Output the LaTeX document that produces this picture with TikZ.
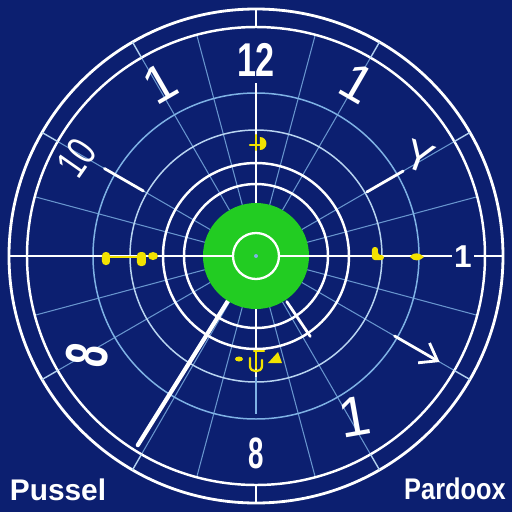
\documentclass[tikz,border=0pt]{standalone}
\usepackage{fontspec}
\setmainfont{Liberation Sans}
\usetikzlibrary{arrows.meta}
\definecolor{dialbg}{HTML}{0C1F70}
\definecolor{gridblue}{HTML}{7FB2E5}
\definecolor{bullgreen}{HTML}{22CC22}
\definecolor{markyellow}{HTML}{F2E200}

\begin{document}
\begin{tikzpicture}[
    x=0.02cm, y=0.02cm,
    rim/.style={draw=white, line width=1.6pt},
    ring/.style={draw=white, line width=1.4pt},
    thinring/.style={draw=gridblue, line width=0.85pt},
    spoke/.style={draw=gridblue!80!dialbg, line width=0.6pt},
    rimtick/.style={draw=gridblue!60!white, line width=0.8pt},
    hand/.style={draw=white, line width=1.6pt, line cap=round},
    axisline/.style={draw=white, line width=1.5pt},
    marker/.style={fill=markyellow},
    markerline/.style={draw=markyellow, line width=1.3pt, line cap=round},
    numeral/.style={text=white, inner sep=0pt, font=\bfseries\fontsize{27}{27}\selectfont},
    slimnumeral/.style={text=white, inner sep=0pt, font=\fontsize{30}{30}\selectfont},
    caption/.style={text=white, inner sep=0pt, font=\bfseries\fontsize{17}{17}\selectfont}
]

% Background and bounding box.
\fill[dialbg] (-256,-256) rectangle (256,256);

% Light radial grid.
\draw[spoke] (15:53) -- (15:229);
\draw[spoke] (30:53) -- (30:229);
\draw[spoke] (60:53) -- (60:229);
\draw[spoke] (75:53) -- (75:229);
\draw[spoke] (105:53) -- (105:229);
\draw[spoke] (120:53) -- (120:229);
\draw[spoke] (150:53) -- (150:229);
\draw[spoke] (165:53) -- (165:229);
\draw[spoke] (195:53) -- (195:229);
\draw[spoke] (210:53) -- (210:229);
\draw[spoke] (240:53) -- (240:229);
\draw[spoke] (255:53) -- (255:229);
\draw[spoke] (285:53) -- (285:229);
\draw[spoke] (300:53) -- (300:229);
\draw[spoke] (330:53) -- (330:229);
\draw[spoke] (345:53) -- (345:229);

% Rings.
\draw[thinring] (0,0) circle (163);
\draw[thinring, draw=gridblue!55!white] (0,0) circle (126);
\draw[ring] (0,0) circle (93);
\draw[ring] (0,0) circle (72);
\draw[ring] (0,0) circle (229);
\draw[rim] (0,0) circle (247);

% Ticks between the two rims.
\draw[rimtick] (30:229) -- (30:247);
\draw[rimtick] (60:229) -- (60:247);
\draw[rimtick] (120:229) -- (120:247);
\draw[rimtick] (150:229) -- (150:247);
\draw[rimtick] (210:229) -- (210:247);
\draw[rimtick] (240:229) -- (240:247);
\draw[rimtick] (300:229) -- (300:247);
\draw[rimtick] (330:229) -- (330:247);
\draw[axisline] (90:229) -- (90:247);
\draw[axisline] (270:229) -- (270:247);

% Axes.
\draw[axisline] (180:247) -- (0:247);
\draw[axisline] (0,53) -- (0,173);
\draw[axisline] (0,-51) -- (0,-121);
\draw[thinring] (0,-121) -- (0,-158);

% Hands.
\draw[hand] (150:130) -- (150:175);
\draw[hand] (30:128) -- (30:170);
\draw[hand, line width=2.4pt] (238:53) -- (238:223);
\draw[hand] (-56:55) -- (-56:97);
\draw[hand, -{Straight Barb[length=9pt, width=13pt, line width=1.6pt]}] (-30:160) -- (-30:212);

% Bullseye.
\fill[bullgreen] (0,0) circle (53);
\draw[axisline] (-53,0) -- (-23,0);
\draw[axisline] (23,0) -- (53,0);
\draw[white, line width=1.3pt] (0,0) circle (23);
\fill[gridblue] (0,0) circle (2);

% Yellow markers.
\draw[markerline] (0,121) -- (0,106);
\draw[markerline] (-6,111) -- (6,111);
\fill[marker] (4,119) -- (4,106) arc (-90:90:6.5) -- cycle;
\draw[markerline] (-146,-1) -- (-119,-1);
\fill[marker, rounded corners=2pt] (-154,-9) rectangle (-146,4);
\fill[marker, rounded corners=2pt] (-119,-10) rectangle (-110,4);
\fill[marker] (-103,0) ellipse (5 and 4);
\fill[marker, rounded corners=1.5pt] (116,-4) -- (116,9) -- (122,9) -- (122,1) -- (128,1) -- (128,-4) -- cycle;
\fill[marker] (154,-1) .. controls (158,5) and (164,3) .. (168,-1) .. controls (164,-5) and (158,-6) .. (154,-1) -- cycle;
\fill[marker] (-17,-103) ellipse (4 and 2.5);
\draw[markerline] (-6,-102) -- (-6,-110) .. controls (-6,-117) and (6,-117) .. (6,-110) -- (6,-104);
\draw[markerline] (-2,-95) -- (8,-95);
\draw[markerline] (0,-96) -- (0,-112);
\fill[marker] (12,-107) -- (26,-107) -- (22,-96) -- cycle;

% Numerals.
\node[numeral, xscale=0.72] (twelve) at (0,196) {12};
\node[slimnumeral, rotate=30] (oneleft) at (-96,173) {1};
\node[slimnumeral, rotate=-30] (oneright) at (101,173) {1};
\node[numeral, font=\fontsize{24}{24}\selectfont, rotate=55, xscale=0.75] (ten) at (-179,98) {10};
\node[numeral, font=\bfseries\fontsize{34}{34}\selectfont, rotate=80, xscale=0.65] (eightleft) at (-169,-99) {8};
\node[numeral, font=\bfseries\fontsize{25}{25}\selectfont, xscale=0.63] (eightbottom) at (0,-197) {8};
\node[numeral, font=\bfseries\fontsize{18}{18}\selectfont, fill=dialbg, inner xsep=1pt] (oneeast) at (207,-1) {1};
\node[slimnumeral, font=\fontsize{32}{32}\selectfont, rotate=10] (onesouth) at (99,-161) {1};
\node[slimnumeral, font=\fontsize{24}{24}\selectfont, rotate=-20] (forkglyph) at (164,99) {Y};

% Captions.
\node[caption] (pussel) at (-198,-234) {Pussel};
\node[caption, xscale=0.85] (pardoox) at (199,-233) {Pardoox};

\end{tikzpicture}
\end{document}
